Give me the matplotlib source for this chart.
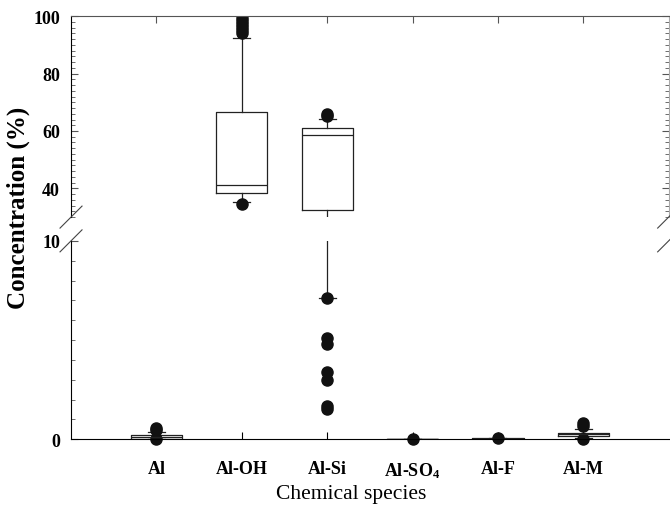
import matplotlib
matplotlib.use("Agg")
import matplotlib.pyplot as plt
from matplotlib.ticker import MultipleLocator, FixedLocator

# categories and box statistics (%)
species = ["Al", "Al-OH", "Al-Si", "Al-SO$_4$", "Al-F", "Al-M"]
whislo = [0.0, 35.4, 7.1, 0.0, 0.0, 0.05]
q1 = [0.03, 38.3, 32.6, 0.0, 0.0, 0.15]
med = [0.1, 41.1, 58.6, 0.0, 0.0, 0.25]
q3 = [0.2, 66.7, 61.1, 0.0, 0.05, 0.33]
whishi = [0.37, 92.4, 64.1, 0.0, 0.05, 0.5]
fliers = [
    [0.0, 0.45, 0.55],
    [34.4, 94.2, 95.2, 96.2, 97.2, 98.2, 99.2],
    [1.5, 1.7, 3.0, 3.4, 4.8, 5.1, 7.1, 65.3, 65.9],
    [0.0],
    [0.08],
    [0.0, 0.65, 0.8],
]

plt.rcParams["font.family"] = ["Liberation Serif", "DejaVu Serif"]
plt.rcParams["mathtext.fontset"] = "custom"
plt.rcParams["mathtext.rm"] = "Liberation Serif:bold"
plt.rcParams["mathtext.it"] = "Liberation Serif:bold"

fig = plt.figure(figsize=(6.7, 5.06), dpi=100)
ax_top = fig.add_axes([0.106, 0.569, 0.892, 0.397])
ax_bot = fig.add_axes([0.106, 0.130, 0.892, 0.392])

positions = list(range(1, len(species) + 1))


def stats_for(lo, hi):
    out = []
    for i in range(len(species)):
        out.append(dict(whislo=whislo[i], q1=q1[i], med=med[i], q3=q3[i],
                        whishi=whishi[i],
                        fliers=[f for f in fliers[i] if lo <= f <= hi]))
    return out


box_style = dict(widths=0.6, showcaps=True,
                 boxprops=dict(color="#222222", linewidth=0.9),
                 whiskerprops=dict(color="#222222", linewidth=0.9),
                 capprops=dict(color="#222222", linewidth=0.9),
                 medianprops=dict(color="#222222", linewidth=0.9),
                 flierprops=dict(marker="o", markerfacecolor="#111111",
                                 markeredgecolor="#111111", markersize=8))

ax_top.bxp(stats_for(30, 100), positions=positions, capwidths=0.2, **box_style)
b = ax_bot.bxp(stats_for(-1, 10), positions=positions, capwidths=0.2, **box_style)
for fl in b["fliers"]:
    fl.set_clip_on(False)

ax_top.set_ylim(30, 100)
ax_bot.set_ylim(0, 10)
for ax in (ax_top, ax_bot):
    ax.set_xlim(0, 7)

# top panel
ax_top.spines["bottom"].set_visible(False)
ax_top.spines["right"].set_color("#aaaaaa")
ax_top.spines["top"].set_color("#555555")
ax_top.yaxis.set_major_locator(FixedLocator([40, 60, 80, 100]))
ax_top.yaxis.set_minor_locator(MultipleLocator(2))
ax_top.xaxis.set_ticks_position("top")
ax_top.set_xticks(positions)
ax_top.tick_params(axis="x", direction="in", length=5, labeltop=False, color="#555555")
ax_top.tick_params(axis="y", which="both", direction="in", right=True, color="#555555")
ax_top.tick_params(axis="y", which="major", length=5, labelsize=13, pad=8)
ax_top.tick_params(axis="y", which="minor", length=3)

# bottom panel
ax_bot.spines["top"].set_visible(False)
ax_bot.spines["right"].set_visible(False)
ax_bot.yaxis.set_major_locator(FixedLocator([0, 10]))
ax_bot.yaxis.set_minor_locator(MultipleLocator(1))
ax_bot.set_xticks(positions)
ax_bot.set_xticklabels(species)
ax_bot.tick_params(axis="x", direction="in", length=5, labelsize=13, pad=15)
ax_bot.tick_params(axis="y", which="both", direction="in", color="#555555")
ax_bot.tick_params(axis="y", which="major", length=5, labelsize=13, pad=8)
ax_bot.tick_params(axis="y", which="minor", length=3)

for ax in (ax_top, ax_bot):
    for lab in ax.get_yticklabels() + ax.get_xticklabels():
        lab.set_fontweight("bold")

# break marks
fw, fh = fig.get_size_inches() * fig.dpi
dx, dy = 11 / fw, 11 / fh
for yb in (0.569, 0.522):
    for xb in (0.106, 0.998):
        fig.add_artist(plt.Line2D([xb - dx, xb + dx], [yb - dy, yb + dy],
                                  color="#444444", linewidth=0.8))

fig.text(0.028, 0.59, "Concentration (%)", rotation=90, ha="center", va="center",
         fontsize=18, fontweight="bold")
fig.text(0.524, 0.022, "Chemical species", ha="center", va="center", fontsize=15.5)

fig.savefig("out.png", dpi=100)
